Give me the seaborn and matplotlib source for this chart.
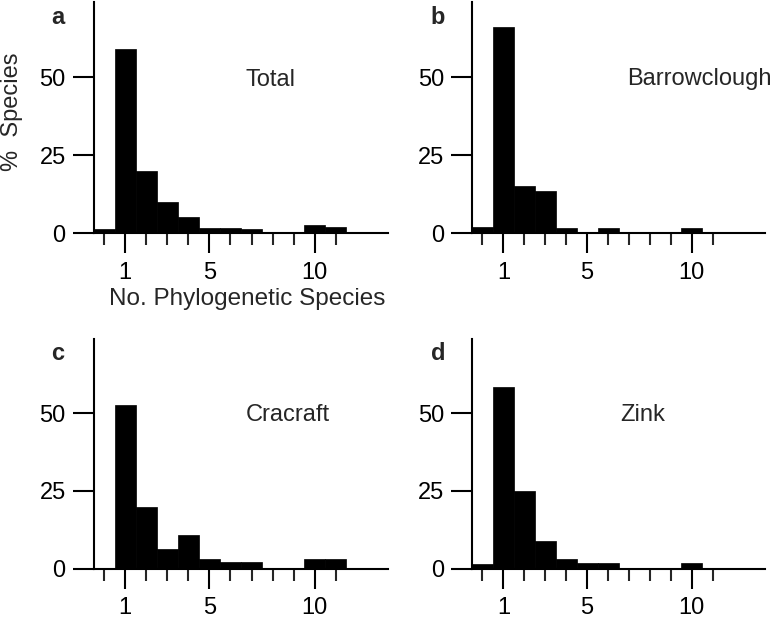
import matplotlib
matplotlib.use("Agg")
import matplotlib.pyplot as plt
import seaborn as sns
import numpy as np
import pandas as pd
from matplotlib.ticker import FixedLocator

sns.set_style("ticks")
plt.rcParams['font.family'] = ['Liberation Sans', 'DejaVu Sans']

n_species = [0, 1, 2, 3, 4, 5, 6, 7, 8, 9, 10, 11]
total = [1.4, 59, 20, 10, 5.1, 1.8, 1.8, 1.3, 0, 0, 2.5, 1.9]
barrowclough = [2, 66, 15.3, 13.5, 1.8, 0, 1.8, 0, 0, 0, 1.8, 0]
cracraft = [0, 52.7, 19.7, 6.4, 10.9, 3.1, 2.0, 2.0, 0, 0, 3.1, 3.1]
zink = [1.5, 58.4, 25, 9, 2.9, 1.7, 1.7, 0, 0, 0, 1.7, 0]

panel_letters = ["a", "b", "c", "d"]
panel_names = ["Total", "Barrowclough", "Cracraft", "Zink"]
series = [total, barrowclough, cracraft, zink]
major_ticks = [1, 5, 10]
minor_ticks = [0, 2, 3, 4, 6, 7, 8, 9, 11]
y_ticks = [0, 25, 50]

FS = 17
W, H = 784, 621
fig = plt.figure(figsize=(W / 100, H / 100), dpi=100)

# pixel boxes: left, zero-line y, width, height
boxes = [(93.5, 233.3, 295, 231), (472, 233.3, 293, 231),
         (93.5, 568.5, 295, 230), (472, 568.5, 293, 230)]
name_pos = [(270, 80), (699, 79), (288, 415), (643, 415)]
letter_pos = [(58, 17), (438, 17), (58, 353), (438, 353)]

for i, (vals, box) in enumerate(zip(series, boxes)):
    l, z, w, h = box
    ax = fig.add_axes([l / W, (H - z) / H, w / W, h / H])
    df = pd.DataFrame({"n": n_species, "pct": vals})
    sns.barplot(data=df, x="n", y="pct", native_scale=True, width=1.0,
                color="black", edgecolor="black", linewidth=0.5,
                saturation=1, ax=ax)
    ax.set_xlim(-0.5, 13.5)
    ax.set_ylim(0, 74)
    sns.despine(ax=ax)
    for s in ["left", "bottom"]:
        ax.spines[s].set_linewidth(1.5)
        ax.spines[s].set_color("black")
    ax.xaxis.set_major_locator(FixedLocator(major_ticks))
    ax.xaxis.set_minor_locator(FixedLocator(minor_ticks))
    ax.set_xticklabels([str(t) for t in major_ticks])
    ax.set_yticks(y_ticks)
    ax.set_yticklabels([str(t) for t in y_ticks])
    ax.tick_params(axis="x", which="major", length=14.5, width=1.5,
                   direction="out", pad=6, labelsize=FS, colors="black")
    ax.tick_params(axis="x", which="minor", length=8.5, width=1.5,
                   direction="out")
    ax.tick_params(axis="y", which="major", length=15, width=1.5,
                   direction="out", pad=5, labelsize=FS, colors="black")
    ax.set_xlabel("")
    ax.set_ylabel("")
    ax.patch.set_alpha(0)

    fig.text(name_pos[i][0] / W, 1 - name_pos[i][1] / H, panel_names[i],
             fontsize=FS, ha="center", va="center")
    fig.text(letter_pos[i][0] / W, 1 - letter_pos[i][1] / H, panel_letters[i],
             fontsize=FS, fontweight="bold", ha="center", va="center")

fig.text(247.5 / W, 1 - 299 / H, "No. Phylogenetic Species", fontsize=17.5,
         ha="center", va="center")
fig.text(12 / W, 1 - 112 / H, "%  Species", fontsize=FS, rotation=90,
         ha="center", va="center")

fig.savefig("out.png", dpi=100, facecolor="white")
